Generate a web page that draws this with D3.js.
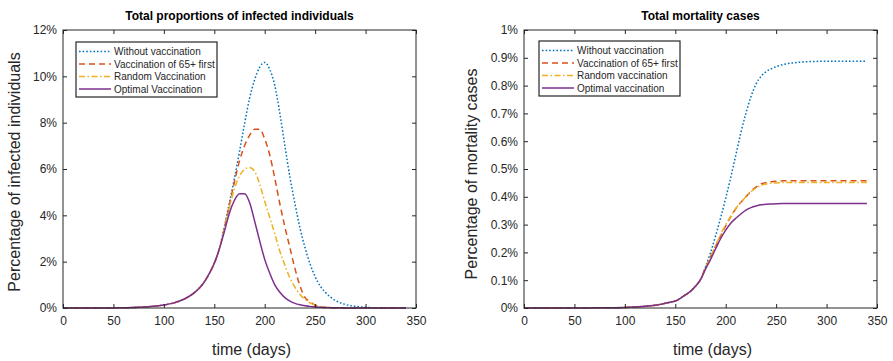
<!DOCTYPE html>
<html>
<head>
<meta charset="utf-8">
<script src="https://cdn.jsdelivr.net/npm/d3@7"></script>
<style>
  body { margin: 0; background: #fff; }
  svg { font-family: "Liberation Sans", Arial, sans-serif; }
</style>
</head>
<body>
<div id="my_dataviz"></div>
<script>
var days = [0,10,20,30,40,50,60,70,80,90,100,110,120,130,
  135,140,145,150,155,160,165,170,175,180,185,190,195,200,205,210,
  215,220,225,230,235,240,245,250,255,260,270,280,290,300,310,320,330,340];

// infected (%), common part up to day 155 then each scenario
var infRise = [0,0,0,0,0,0,0.01,0.02,0.04,0.08,0.13,0.22,0.38,0.65,0.85,1.12,1.48,1.93,2.55];
var infNoVac = infRise.concat([3.5,4.55,5.6,6.75,7.95,9.05,9.85,10.4,10.6,10.3,9.6,8.4,7.0,5.65,4.5,3.45,2.6,1.9,1.35,0.95,0.68,0.33,0.15,0.07,0.03,0.01,0,0,0]);
var inf65First = infRise.concat([3.45,4.45,5.45,6.35,7.0,7.45,7.72,7.72,7.3,6.6,5.6,4.5,3.5,2.6,1.7,0.95,0.45,0.28,0.12,0.05,0.02,0.01,0,0,0,0,0,0,0]);
var infRandom = infRise.concat([3.4,4.35,5.15,5.7,5.98,6.07,5.9,5.35,4.6,3.9,3.2,2.45,1.85,1.3,0.9,0.58,0.37,0.22,0.12,0.06,0.03,0.01,0,0,0,0,0,0,0]);
var infOptimal = infRise.concat([3.3,4.1,4.65,4.93,4.93,4.55,3.75,2.9,2.1,1.5,1.0,0.68,0.45,0.3,0.2,0.14,0.1,0.07,0.05,0.03,0.02,0.01,0,0,0,0,0,0,0]);

// mortality (%), common part up to day 175
var mortRise = [0,0,0,0,0,0,0,0.0005,0.0005,0.001,0.002,0.004,0.006,0.01,0.013,0.017,0.021,0.025,0.035,0.047,0.06,0.078,0.102];
var mortNoVac = mortRise.concat([0.148,0.2,0.26,0.325,0.395,0.47,0.55,0.63,0.7,0.76,0.805,0.833,0.85,0.86,0.868,0.874,0.878,0.883,0.886,0.887,0.888,0.888,0.888,0.888,0.888]);
var mort65First = mortRise.concat([0.145,0.185,0.222,0.26,0.295,0.328,0.357,0.38,0.4,0.42,0.435,0.446,0.451,0.454,0.456,0.457,0.458,0.458,0.458,0.458,0.458,0.458,0.458,0.458,0.458]);
var mortRandom = mortRise.concat([0.145,0.185,0.225,0.265,0.3,0.33,0.358,0.38,0.4,0.418,0.432,0.441,0.446,0.449,0.45,0.451,0.451,0.451,0.451,0.451,0.451,0.451,0.451,0.451,0.451]);
var mortOptimal = mortRise.concat([0.14,0.175,0.213,0.25,0.28,0.305,0.323,0.338,0.352,0.361,0.367,0.371,0.373,0.374,0.375,0.376,0.376,0.376,0.376,0.376,0.376,0.376,0.376,0.376,0.376]);

var xTicks = [0,50,100,150,200,250,300,350];
var infTicks = [0,2,4,6,8,10,12];
var mortTicks = [0,0.1,0.2,0.3,0.4,0.5,0.6,0.7,0.8,0.9,1];

var infNames = ["Without vaccination", "Vaccination of 65+ first", "Random Vaccination", "Optimal Vaccination"];
var mortNames = ["Without vaccination", "Vaccination of 65+ first", "Random vaccination", "Optimal vaccination"];

var colors = ["#0072BD", "#D95319", "#EDB120", "#7E2F8E"];
var dashes = ["1.6,2", "6,4", "6,2.5,1.5,2.5", null];

var svg = d3.select("#my_dataviz")
  .append("svg")
    .attr("width", 893)
    .attr("height", 361);

function drawPanel(p) {
  var x = d3.scaleLinear().domain([0, 350]).range([p.left, p.right]);
  var y = d3.scaleLinear().domain([0, p.ymax]).range([p.bottom, p.top]);
  var g = svg.append("g");

  // lines
  var line = d3.line()
    .x(function(d) { return x(d[0]); })
    .y(function(d) { return y(d[1]); })
    .curve(d3.curveMonotoneX);
  p.series.forEach(function(s, i) {
    g.append("path")
      .datum(days.map(function(d, j) { return [d, s[j]]; }))
      .attr("fill", "none")
      .attr("stroke", colors[i])
      .attr("stroke-width", 1.5)
      .attr("stroke-dasharray", dashes[i])
      .attr("d", line);
  });

  // axes with inward ticks
  g.append("g")
    .attr("transform", "translate(0," + p.bottom + ")")
    .call(d3.axisBottom(x).tickValues(xTicks).tickSizeInner(-4).tickSizeOuter(0).tickPadding(8));
  g.append("g")
    .attr("transform", "translate(" + p.left + ",0)")
    .call(d3.axisLeft(y).tickValues(p.yTicks).tickSizeInner(-4).tickSizeOuter(0).tickPadding(6)
      .tickFormat(function(d) { return d + "%"; }));
  g.append("g")
    .attr("transform", "translate(0," + p.top + ")")
    .call(d3.axisTop(x).tickValues(xTicks).tickSizeInner(-4).tickSizeOuter(0).tickFormat(""));
  g.append("g")
    .attr("transform", "translate(" + p.right + ",0)")
    .call(d3.axisRight(y).tickValues(p.yTicks).tickSizeInner(-4).tickSizeOuter(0).tickFormat(""));
  g.selectAll(".domain").remove();
  g.selectAll(".tick line").attr("stroke", "#262626");
  g.selectAll(".tick text").attr("fill", "#262626").style("font-size", "12px")
    .style("font-family", "Liberation Sans, Arial, sans-serif");

  g.append("rect")
    .attr("x", p.left).attr("y", p.top)
    .attr("width", p.right - p.left).attr("height", p.bottom - p.top)
    .attr("fill", "none").attr("stroke", "#262626").attr("stroke-width", 1);

  // title
  g.append("text")
    .attr("x", (p.left + p.right) / 2)
    .attr("y", 20)
    .attr("text-anchor", "middle")
    .style("font-size", "12px")
    .style("font-weight", "bold")
    .text(p.title);

  // axis labels
  g.append("text")
    .attr("x", (p.left + p.right) / 2 + 12)
    .attr("y", 355)
    .attr("text-anchor", "middle")
    .style("font-size", "16px")
    .attr("fill", "#262626")
    .text("time (days)");
  g.append("text")
    .attr("transform", "translate(" + p.ylabelX + "," + p.ylabelY + ") rotate(-90)")
    .attr("text-anchor", "middle")
    .style("font-size", "16px")
    .attr("fill", "#262626")
    .text(p.ylabel);

  // legend
  var lg = g.append("g").attr("transform", "translate(" + p.legX + "," + p.legY + ")");
  lg.append("rect")
    .attr("width", 141).attr("height", 55)
    .attr("fill", "#fff").attr("stroke", "#262626").attr("stroke-width", 1.2);
  p.names.forEach(function(n, i) {
    var cy = 9.5 + i * 12.5;
    lg.append("line")
      .attr("x1", 3).attr("x2", 35).attr("y1", cy).attr("y2", cy)
      .attr("stroke", colors[i]).attr("stroke-width", 1.5)
      .attr("stroke-dasharray", dashes[i]);
    lg.append("text")
      .attr("x", 38).attr("y", cy)
      .attr("dy", "0.35em")
      .style("font-size", "10px")
      .attr("fill", "#262626")
      .text(n);
  });
}

drawPanel({
  left: 63, right: 416, top: 30, bottom: 308, ymax: 12, yTicks: infTicks,
  series: [infNoVac, inf65First, infRandom, infOptimal], names: infNames,
  title: "Total proportions of infected individuals",
  ylabel: "Percentage of infected individuals", ylabelX: 20, ylabelY: 172,
  legX: 76, legY: 42
});

drawPanel({
  left: 524, right: 877, top: 30, bottom: 308, ymax: 1, yTicks: mortTicks,
  series: [mortNoVac, mort65First, mortRandom, mortOptimal], names: mortNames,
  title: "Total mortality cases",
  ylabel: "Percentage of mortality cases", ylabelX: 477, ylabelY: 174,
  legX: 539, legY: 41
});
</script>
</body>
</html>
